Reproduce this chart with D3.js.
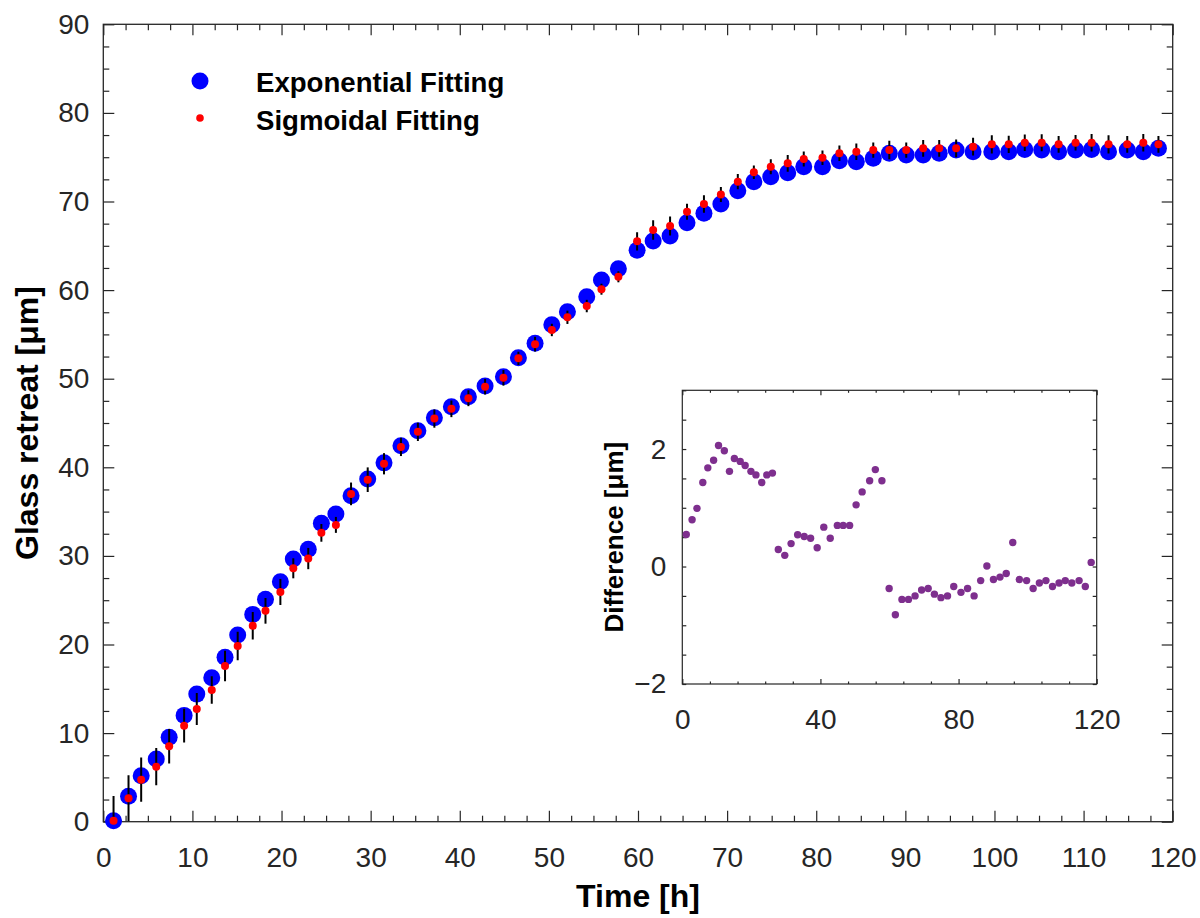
<!DOCTYPE html>
<html>
<head>
<meta charset="utf-8">
<script src="https://cdn.jsdelivr.net/npm/d3@7"></script>
<style>
  html, body { margin: 0; padding: 0; background: #fff; }
  svg { display: block; font-family: "Liberation Sans", Arial, Helvetica, sans-serif; }
</style>
</head>
<body>
<svg id="chart" width="1200" height="918"></svg>
<script>
// Time of each measurement [h]
const timeH = [1.15, 2.83, 4.25, 5.94, 7.39, 9.07, 10.49, 12.17, 13.66, 15.08,
  16.77, 18.2, 19.87, 21.32, 23.0, 24.47, 26.1, 27.8, 29.67, 31.5,
  33.4, 35.3, 37.15, 39.06, 40.97, 42.84, 44.9, 46.58, 48.45, 50.33,
  52.08, 54.25, 55.9, 57.8, 59.9, 61.7, 63.6, 65.5, 67.4, 69.3,
  71.2, 73.0, 74.9, 76.8, 78.6, 80.7, 82.6, 84.5, 86.4, 88.2,
  90.1, 92.0, 93.8, 95.7, 97.6, 99.7, 101.6, 103.4, 105.3, 107.2,
  109.1, 110.9, 112.8, 114.9, 116.7, 118.4];

// Glass retreat from the exponential fit [µm]
const exponentialFit = [0.11, 2.86, 5.19, 7.07, 9.54, 12.0, 14.4, 16.25, 18.55, 21.07,
  23.4, 25.1, 27.09, 29.65, 30.74, 33.68, 34.73, 36.8, 38.68, 40.5,
  42.44, 44.13, 45.6, 46.84, 47.97, 49.18, 50.23, 52.37, 54.0, 56.1,
  57.56, 59.25, 61.14, 62.4, 64.5, 65.54, 66.1, 67.6, 68.67, 69.72,
  71.22, 72.24, 72.8, 73.25, 73.93, 73.93, 74.6, 74.49, 74.87, 75.44,
  75.24, 75.24, 75.44, 75.81, 75.62, 75.62, 75.62, 75.88, 75.81, 75.62,
  75.81, 75.88, 75.62, 75.81, 75.62, 76.0];

// Glass retreat from the sigmoidal fit [µm]
const sigmoidalFit = [0.11, 2.64, 4.74, 6.21, 8.51, 10.84, 12.72, 14.86, 17.57, 19.83,
  22.12, 23.8, 25.93, 28.6, 29.7, 32.6, 33.5, 37.0, 38.6, 40.4,
  42.3, 44.0, 45.5, 46.6, 47.8, 49.1, 50.1, 52.3, 53.9, 55.5,
  56.93, 58.2, 60.1, 61.5, 65.5, 66.78, 67.23, 68.85, 69.72, 70.8,
  72.24, 73.3, 73.93, 74.31, 74.8, 74.94, 75.44, 75.62, 75.81, 75.81,
  75.81, 76.0, 76.0, 76.0, 76.19, 76.45, 76.45, 76.63, 76.63, 76.45,
  76.63, 76.63, 76.45, 76.45, 76.63, 76.45];

// Half-length of the error bar on each sigmoidal point [µm]
const sigmoidalErr = [2.8, 2.6, 2.5, 2.1, 1.95, 1.9, 1.8, 1.55, 1.73, 1.6,
  1.56, 1.45, 1.47, 1.13, 1.2, 1.0, 0.9, 1.28, 1.39, 1.2,
  1.03, 1.03, 1.03, 0.94, 0.9, 0.88, 0.88, 0.75, 0.83, 0.7,
  0.75, 0.7, 0.62, 0.62, 1.03, 1.09, 1.07, 0.9, 0.98, 0.85,
  0.87, 0.77, 0.85, 0.94, 0.85, 0.81, 0.88, 0.94, 0.86, 1.05,
  0.86, 0.94, 0.94, 1.0, 1.0, 1.03, 0.98, 0.94, 0.96, 0.94,
  0.88, 0.98, 1.03, 0.94, 1.0, 0.94];

// Exponential minus sigmoidal fit [µm]
const difference = [0.545, 0.795, 0.99, 1.43, 1.68, 1.81, 2.06, 1.97, 1.62, 1.84,
  1.79, 1.72, 1.62, 1.56, 1.43, 1.56, 1.59, 0.29, 0.19, 0.39,
  0.54, 0.51, 0.48, 0.32, 0.67, 0.48, 0.70, 0.70, 0.70, 1.05,
  1.27, 1.46, 1.65, 1.46, -0.375, -0.82, -0.56, -0.56, -0.50, -0.40,
  -0.375, -0.47, -0.53, -0.50, -0.34, -0.44, -0.375, -0.50, -0.24, 0.01,
  -0.22, -0.18, -0.12, 0.41, -0.22, -0.24, -0.375, -0.28, -0.24, -0.34,
  -0.28, -0.24, -0.28, -0.24, -0.34, 0.07];

const xTicks = [0, 10, 20, 30, 40, 50, 60, 70, 80, 90, 100, 110, 120];
const yTicks = [0, 10, 20, 30, 40, 50, 60, 70, 80, 90];
const insetXTicks = [0, 40, 80, 120];
const insetYTicks = [-2, 0, 2];
const seriesNames = ["Exponential Fitting", "Sigmoidal Fitting"];

const AXIS = "#262626";
const svg = d3.select("#chart");

// ---------- main axes ----------
const box = { left: 103.3, right: 1172.7, top: 24.3, bottom: 821.7 };
const x = d3.scaleLinear().domain([0, 120]).range([box.left, box.right]);
const y = d3.scaleLinear().domain([0, 90]).range([box.bottom, box.top]);

svg.append("defs").append("clipPath").attr("id", "plotClip")
  .append("rect")
  .attr("x", box.left).attr("y", box.top)
  .attr("width", box.right - box.left).attr("height", box.bottom - box.top);

function styleAxis(g) {
  g.select(".domain").remove();
  g.selectAll(".tick line").attr("stroke", AXIS).attr("stroke-width", 1.2);
  g.selectAll(".tick text").attr("fill", AXIS);
}

const minorX = d3.range(0, 120.01, 2.5).filter(v => v % 10 !== 0);
const minorY = d3.range(0, 90.01, 2.5).filter(v => v % 10 !== 0);

// bottom (labelled) and top (mirror) x axes
svg.append("g").attr("transform", `translate(0,${box.bottom})`)
  .call(d3.axisBottom(x).tickValues(xTicks).tickSize(-11).tickPadding(25).tickFormat(d3.format("d")))
  .attr("font-size", 28).attr("font-family", null)
  .call(styleAxis);
svg.append("g").attr("transform", `translate(0,${box.bottom})`)
  .call(d3.axisBottom(x).tickValues(minorX).tickSize(-6).tickFormat(""))
  .call(styleAxis);
svg.append("g").attr("transform", `translate(0,${box.top})`)
  .call(d3.axisTop(x).tickValues(xTicks).tickSize(-11).tickFormat(""))
  .call(styleAxis);
svg.append("g").attr("transform", `translate(0,${box.top})`)
  .call(d3.axisTop(x).tickValues(minorX).tickSize(-6).tickFormat(""))
  .call(styleAxis);

// left (labelled) and right (mirror) y axes
svg.append("g").attr("transform", `translate(${box.left},0)`)
  .call(d3.axisLeft(y).tickValues(yTicks).tickSize(-11).tickPadding(14).tickFormat(d3.format("d")))
  .attr("font-size", 28).attr("font-family", null)
  .call(styleAxis);
svg.append("g").attr("transform", `translate(${box.left},0)`)
  .call(d3.axisLeft(y).tickValues(minorY).tickSize(-6).tickFormat(""))
  .call(styleAxis);
svg.append("g").attr("transform", `translate(${box.right},0)`)
  .call(d3.axisRight(y).tickValues(yTicks).tickSize(-11).tickFormat(""))
  .call(styleAxis);
svg.append("g").attr("transform", `translate(${box.right},0)`)
  .call(d3.axisRight(y).tickValues(minorY).tickSize(-6).tickFormat(""))
  .call(styleAxis);

svg.append("rect")
  .attr("x", box.left).attr("y", box.top)
  .attr("width", box.right - box.left).attr("height", box.bottom - box.top)
  .attr("fill", "none").attr("stroke", AXIS).attr("stroke-width", 1.3);

// axis titles
svg.append("text")
  .attr("x", (box.left + box.right) / 2).attr("y", 907)
  .attr("text-anchor", "middle").attr("font-size", 32).attr("font-weight", "bold")
  .attr("fill", "#000").text("Time [h]");
svg.append("text")
  .attr("transform", `translate(38,${(box.top + box.bottom) / 2}) rotate(-90)`)
  .attr("text-anchor", "middle").attr("font-size", 32).attr("font-weight", "bold")
  .attr("fill", "#000").text("Glass retreat [μm]");

// ---------- data ----------
const rows = timeH.map((t, i) => ({
  t, exp: exponentialFit[i], sig: sigmoidalFit[i], err: sigmoidalErr[i], diff: difference[i]
}));

// markers are drawn whole; only the error bars are cut at the axes box
svg.append("g").selectAll("circle").data(rows).join("circle")
  .attr("cx", d => x(d.t)).attr("cy", d => y(d.exp))
  .attr("r", 8.5).attr("fill", "#0000ff");

svg.append("g").attr("clip-path", "url(#plotClip)")
  .selectAll("line").data(rows).join("line")
  .attr("x1", d => x(d.t)).attr("x2", d => x(d.t))
  .attr("y1", d => y(d.sig - d.err)).attr("y2", d => y(d.sig + d.err))
  .attr("stroke", "#000").attr("stroke-width", 2);

svg.append("g").selectAll("circle").data(rows).join("circle")
  .attr("cx", d => x(d.t)).attr("cy", d => y(d.sig))
  .attr("r", 4).attr("fill", "#ff0000");

// ---------- legend ----------
const legend = svg.append("g");
legend.append("circle").attr("cx", 200).attr("cy", 81).attr("r", 8.5).attr("fill", "#0000ff");
legend.append("circle").attr("cx", 200).attr("cy", 118).attr("r", 3.8).attr("fill", "#ff0000");
legend.selectAll("text").data(seriesNames).join("text")
  .attr("x", 256).attr("y", (d, i) => i === 0 ? 91.5 : 129.5)
  .attr("font-size", 27.6).attr("font-weight", "bold").attr("fill", "#000")
  .text(d => d);

// ---------- inset: difference between the fits ----------
const ib = { left: 682.3, right: 1096.7, top: 390.3, bottom: 684 };
const ix = d3.scaleLinear().domain([0, 120]).range([ib.left, ib.right]);
const iy = d3.scaleLinear().domain([-2, 3]).range([ib.bottom, ib.top]);

svg.append("rect")
  .attr("x", ib.left).attr("y", ib.top)
  .attr("width", ib.right - ib.left).attr("height", ib.bottom - ib.top)
  .attr("fill", "#fff");

const insetMinorX = d3.range(0, 120.01, 8).filter(v => v % 40 !== 0);
const insetAllY = d3.range(-2, 3.01, 0.5);

svg.append("g").attr("transform", `translate(0,${ib.bottom})`)
  .call(d3.axisBottom(ix).tickValues(insetXTicks).tickSize(-5).tickPadding(25).tickFormat(d3.format("d")))
  .attr("font-size", 28).attr("font-family", null)
  .call(styleAxis);
svg.append("g").attr("transform", `translate(0,${ib.bottom})`)
  .call(d3.axisBottom(ix).tickValues(insetMinorX).tickSize(-2.5).tickFormat(""))
  .call(styleAxis);
svg.append("g").attr("transform", `translate(0,${ib.top})`)
  .call(d3.axisTop(ix).tickValues(insetXTicks).tickSize(-5).tickFormat(""))
  .call(styleAxis);
svg.append("g").attr("transform", `translate(0,${ib.top})`)
  .call(d3.axisTop(ix).tickValues(insetMinorX).tickSize(-2.5).tickFormat(""))
  .call(styleAxis);

svg.append("g").attr("transform", `translate(${ib.left},0)`)
  .call(d3.axisLeft(iy).tickValues(insetYTicks).tickSize(0).tickPadding(16).tickFormat(d3.format("d")))
  .attr("font-size", 28).attr("font-family", null)
  .call(styleAxis);
svg.append("g").attr("transform", `translate(${ib.left},0)`)
  .call(d3.axisLeft(iy).tickValues(insetAllY).tickSize(-4).tickFormat(""))
  .call(styleAxis);
svg.append("g").attr("transform", `translate(${ib.right},0)`)
  .call(d3.axisRight(iy).tickValues(insetAllY).tickSize(-4).tickFormat(""))
  .call(styleAxis);

svg.append("rect")
  .attr("x", ib.left).attr("y", ib.top)
  .attr("width", ib.right - ib.left).attr("height", ib.bottom - ib.top)
  .attr("fill", "none").attr("stroke", AXIS).attr("stroke-width", 1.2);

svg.append("text")
  .attr("transform", `translate(623,${(ib.top + ib.bottom) / 2}) rotate(-90)`)
  .attr("text-anchor", "middle").attr("font-size", 26).attr("font-weight", "bold")
  .attr("fill", "#000").text("Difference [μm]");

svg.append("g").selectAll("circle").data(rows).join("circle")
  .attr("cx", d => ix(d.t)).attr("cy", d => iy(d.diff))
  .attr("r", 3.7).attr("fill", "#7e2f8e");
</script>
</body>
</html>
